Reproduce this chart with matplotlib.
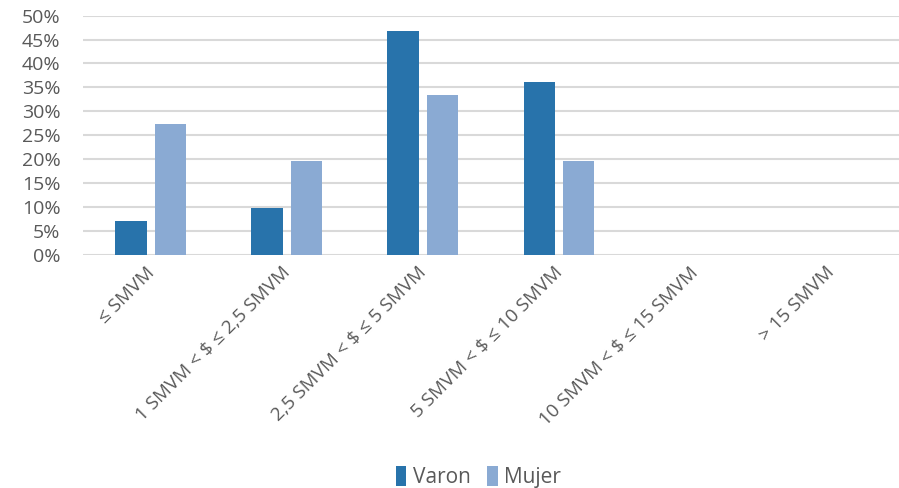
import matplotlib.pyplot as plt
import matplotlib.transforms as mtransforms
import numpy as np

plt.rcParams['font.family'] = ['Open Sans', 'DejaVu Sans']

categorias = ['≤ SMVM', '1 SMVM < $ ≤ 2,5 SMVM', '2,5 SMVM < $ ≤ 5 SMVM',
              '5 SMVM < $ ≤ 10 SMVM', '10 SMVM < $ ≤ 15 SMVM', '> 15 SMVM']
varon = [7.0, 9.8, 46.8, 36.1, 0, 0]
mujer = [27.3, 19.6, 33.3, 19.6, 0, 0]

fig = plt.figure(figsize=(8.99, 4.88), dpi=100)
ax = fig.add_axes([0.092, 0.478, 0.908, 0.49])

x = np.arange(len(categorias))
w = 0.23
ax.bar(x - 0.145, varon, w, color='#2873ab', label='Varon', zorder=3)
ax.bar(x + 0.145, mujer, w, color='#8aaad3', label='Mujer', zorder=3)

ax.set_xlim(-0.5, len(categorias) - 0.5)
ax.set_ylim(0, 50)
ax.set_yticks(range(0, 51, 5))
ax.set_yticklabels([f'{v}%' for v in range(0, 51, 5)])
ax.grid(axis='y', color='#d9d9d9', linewidth=1.5, zorder=0)
for s in ax.spines.values():
    s.set_visible(False)
ax.tick_params(length=0, colors='#595959', labelsize=14)
ax.tick_params(axis='y', pad=16)
ax.set_xticks(x)
ax.set_xticklabels(categorias, rotation=45, ha='right', va='center',
                   rotation_mode='anchor', fontsize=13.6)
shift = mtransforms.ScaledTranslation(1 / 100, -10 / 100, fig.dpi_scale_trans)
for lab in ax.get_xticklabels():
    lab.set_transform(lab.get_transform() + shift)

fig.legend(loc='center', bbox_to_anchor=(0.532, 0.022), ncol=2, frameon=False,
           fontsize=15, handlelength=0.5, handleheight=1.1, columnspacing=0.8,
           handletextpad=0.3, labelcolor='#595959')

plt.savefig('out.png')
